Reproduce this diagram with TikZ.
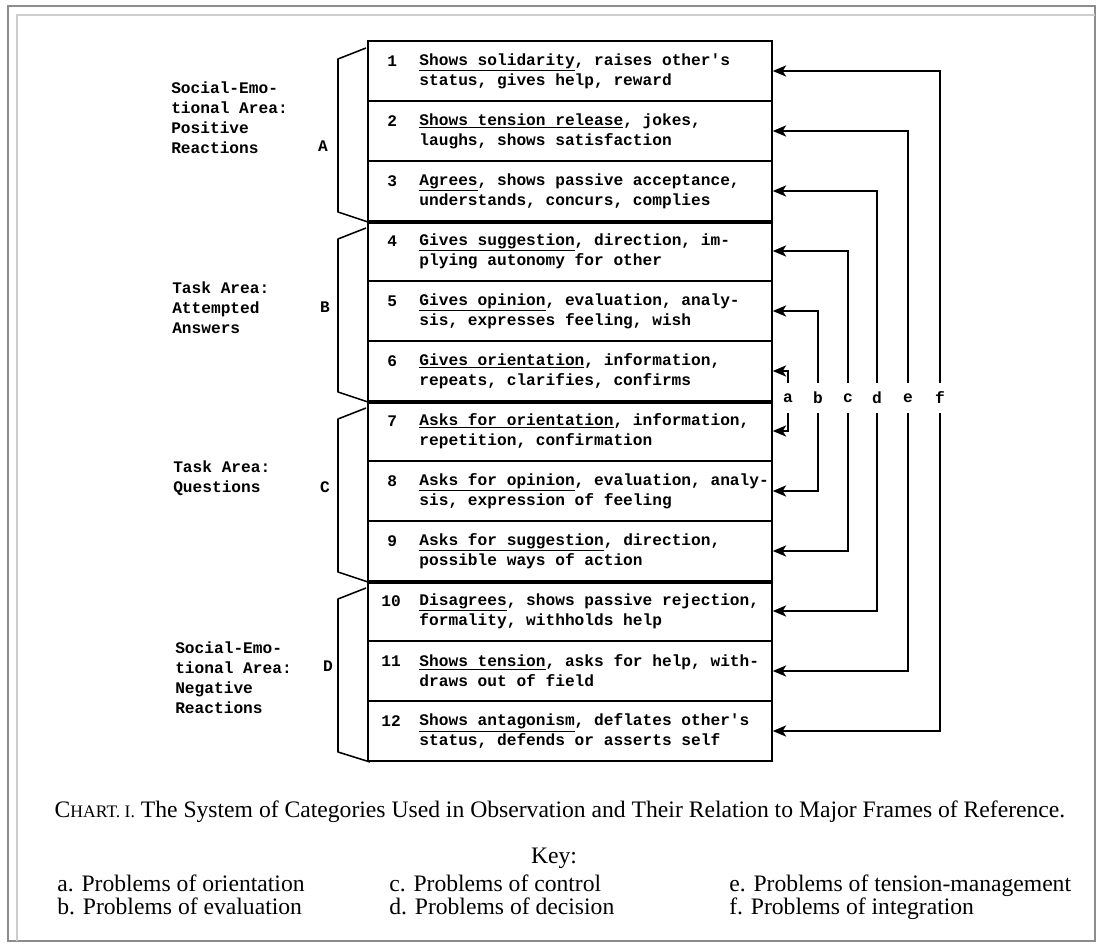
\documentclass[tikz,border=0pt]{standalone}
\usepackage{fontspec}
\setmainfont{Liberation Serif}
\setmonofont{Liberation Mono}
\usetikzlibrary{positioning,arrows.meta}
\definecolor{framegray}{RGB}{140,140,140}
\definecolor{framelight}{RGB}{205,205,205}
\newcommand{\tw}{\ttfamily\bfseries\fontsize{11.5}{14.2}\selectfont}
\newcommand{\capfont}{\fontsize{16.8}{18}\selectfont}

\begin{document}
\begin{tikzpicture}[x=0.025cm,y=-0.025cm,
  row/.style={draw, line width=1.1pt, minimum width=10.1cm, minimum height=1.5cm, inner sep=0pt},
  rowtext/.style={anchor=west, align=left, inner sep=0pt, font=\tw},
  rownum/.style={inner sep=0pt, font=\tw},
  area/.style={anchor=west, align=left, inner sep=0pt, font=\tw},
  brace/.style={line width=1.1pt, line join=round},
  letter/.style={inner sep=0pt, minimum height=0.75cm, font=\tw},
  link/.style={line width=1.1pt, -{Stealth[length=9.5pt,width=8pt,inset=2.5pt]}},
  sep/.style={line width=2.8pt},
  keytext/.style={anchor=base west, inner sep=0pt, font=\capfont},
]
\useasboundingbox (0,0) rectangle (1099,945);
% Frame
\draw[framegray, line width=1pt] (8,6) rectangle (1095,941);
\draw[framelight, line width=1.5pt] (17,941) -- (17,15) -- (1095,15);

% Category rows
\node[row] (r1) at (570,71) {};
\node[row] (r2) at (570,131) {};
\node[row] (r3) at (570,191) {};
\node[row] (r4) at (570,251) {};
\node[row] (r5) at (570,311) {};
\node[row] (r6) at (570,371) {};
\node[row] (r7) at (570,431) {};
\node[row] (r8) at (570,491) {};
\node[row] (r9) at (570,551) {};
\node[row] (r10) at (570,611) {};
\node[row] (r11) at (570,671) {};
\node[row] (r12) at (570,731) {};
\draw[sep] (r3.south west) -- (r3.south east);
\draw[sep] (r6.south west) -- (r6.south east);
\draw[sep] (r9.south west) -- (r9.south east);

% Numbers
\node[rownum] (n1) at ([xshift=0.625cm,yshift=0.25cm]r1.west) {1};
\node[rownum] (n2) at ([xshift=0.625cm,yshift=0.25cm]r2.west) {2};
\node[rownum] (n3) at ([xshift=0.625cm,yshift=0.25cm]r3.west) {3};
\node[rownum] (n4) at ([xshift=0.625cm,yshift=0.25cm]r4.west) {4};
\node[rownum] (n5) at ([xshift=0.625cm,yshift=0.25cm]r5.west) {5};
\node[rownum] (n6) at ([xshift=0.625cm,yshift=0.25cm]r6.west) {6};
\node[rownum] (n7) at ([xshift=0.625cm,yshift=0.25cm]r7.west) {7};
\node[rownum] (n8) at ([xshift=0.625cm,yshift=0.25cm]r8.west) {8};
\node[rownum] (n9) at ([xshift=0.625cm,yshift=0.25cm]r9.west) {9};
\node[rownum] (n10) at ([xshift=0.6cm,yshift=0.25cm]r10.west) {10};
\node[rownum] (n11) at ([xshift=0.6cm,yshift=0.25cm]r11.west) {11};
\node[rownum] (n12) at ([xshift=0.6cm,yshift=0.25cm]r12.west) {12};

% Category texts
\node[rowtext] (t1) at ([xshift=1.3cm]r1.west) {\underline{Shows solidarity}, raises other's\\status, gives help, reward};
\node[rowtext] (t2) at ([xshift=1.3cm]r2.west) {\underline{Shows tension release}, jokes,\\laughs, shows satisfaction};
\node[rowtext] (t3) at ([xshift=1.3cm]r3.west) {\underline{Agrees}, shows passive acceptance,\\understands, concurs, complies};
\node[rowtext] (t4) at ([xshift=1.3cm]r4.west) {\underline{Gives suggestion}, direction, im-\\plying autonomy for other};
\node[rowtext] (t5) at ([xshift=1.3cm]r5.west) {\underline{Gives opinion}, evaluation, analy-\\sis, expresses feeling, wish};
\node[rowtext] (t6) at ([xshift=1.3cm]r6.west) {\underline{Gives orientation}, information,\\repeats, clarifies, confirms};
\node[rowtext] (t7) at ([xshift=1.3cm]r7.west) {\underline{Asks for orientation}, information,\\repetition, confirmation};
\node[rowtext] (t8) at ([xshift=1.3cm]r8.west) {\underline{Asks for opinion}, evaluation, analy-\\sis, expression of feeling};
\node[rowtext] (t9) at ([xshift=1.3cm]r9.west) {\underline{Asks for suggestion}, direction,\\possible ways of action};
\node[rowtext] (t10) at ([xshift=1.3cm]r10.west) {\underline{Disagrees}, shows passive rejection,\\formality, withholds help};
\node[rowtext] (t11) at ([xshift=1.3cm]r11.west) {\underline{Shows tension}, asks for help, with-\\draws out of field};
\node[rowtext] (t12) at ([xshift=1.3cm]r12.west) {\underline{Shows antagonism}, deflates other's\\status, defends or asserts self};

% Areas
\node[area] (pos) at (171,118) {Social-Emo-\\tional Area:\\Positive\\Reactions};
\node[area] (ans) at (172,308) {Task Area:\\Attempted\\Answers};
\node[area] (que) at (173,478) {Task Area:\\Questions};
\node[area] (neg) at (175,678) {Social-Emo-\\tional Area:\\Negative\\Reactions};
\node[rownum] (gA) at (323,146) {A};
\node[rownum] (gB) at (325,307) {B};
\node[rownum] (gC) at (325,487) {C};
\node[rownum] (gD) at (328,666) {D};
\draw[brace] (366,48) -- (338,59) -- (338,212) -- (368,222);
\draw[brace] (366,228) -- (338,239) -- (338,392) -- (368,402);
\draw[brace] (366,408) -- (338,419) -- (338,572) -- (368,582);
\draw[brace] (366,588) -- (338,599) -- (338,752) -- (370,762);

% Frames of reference
\node[letter] (ka) at (788,398) {a};
\node[letter] (kb) at (818,398) {b};
\node[letter] (kc) at (848,398) {c};
\node[letter] (kd) at (877,398) {d};
\node[letter] (ke) at (908,398) {e};
\node[letter] (kf) at (940,398) {f};
\draw[link] (ka) |- (r6.east);
\draw[link] (ka) |- (r7.east);
\draw[link] (kb) |- (r5.east);
\draw[link] (kb) |- (r8.east);
\draw[link] (kc) |- (r4.east);
\draw[link] (kc) |- (r9.east);
\draw[link] (kd) |- (r3.east);
\draw[link] (kd) |- (r10.east);
\draw[link] (ke) |- (r2.east);
\draw[link] (ke) |- (r11.east);
\draw[link] (kf) |- (r1.east);
\draw[link] (kf) |- (r12.east);

% Caption and key
\node[font=\capfont, inner sep=0pt] (cap) at (560,812) {C{\fontsize{12.5}{18}\selectfont HART. I.} The System of Categories Used in Observation and Their Relation to Major Frames of Reference.};
\node[font=\capfont, inner sep=0pt] (key) at (554,858) {Key:};
\node[keytext] (pa) at (57,891) {a. Problems of orientation};
\node[keytext] (pb) at (57,914) {b. Problems of evaluation};
\node[keytext] (pc) at (389,891) {c. Problems of control};
\node[keytext] (pd) at (389,914) {d. Problems of decision};
\node[keytext] (pe) at (729,891) {e. Problems of tension-management};
\node[keytext] (pf) at (729,914) {f. Problems of integration};
\end{tikzpicture}
\end{document}
